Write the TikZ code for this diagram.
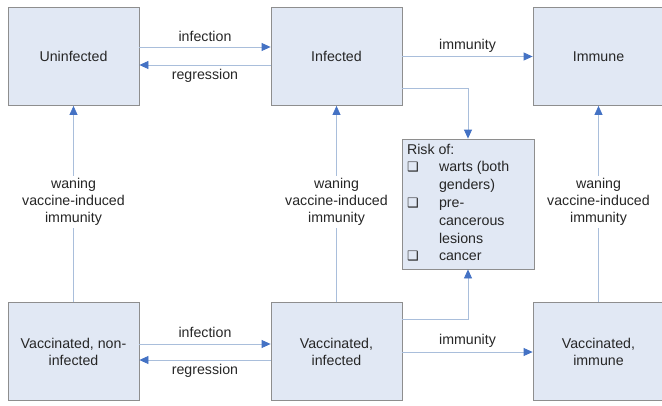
\documentclass[tikz,border=0pt]{standalone}
\usepackage{fontspec}
\setmainfont{Liberation Sans}
\newfontfamily\symfont{DejaVu Sans Bold}
\usetikzlibrary{arrows.meta}
\definecolor{boxfill}{HTML}{E1E8F4}
\definecolor{boxdraw}{HTML}{8E8E8E}
\definecolor{linec}{HTML}{A9BEDB}
\definecolor{tipc}{HTML}{4472C4}
\newcommand{\chkbox}{{\symfont\fontsize{13}{14}\selectfont ❑}}
\begin{document}
\begin{tikzpicture}[x=1pt,y=-1pt,
  font=\fontsize{14.2}{17}\selectfont,
  state/.style={draw=boxdraw, fill=boxfill, line width=0.8pt, minimum width=131pt, minimum height=98pt, align=center, inner sep=0pt, text=black!85},
  conn/.style={draw=linec, line width=0.8pt, -{Triangle[length=9pt,width=8pt,color=tipc]}},
  lbl/.style={font=\fontsize{14.2}{17}\selectfont, text=black!85, inner sep=1pt},
  wlbl/.style={lbl, fill=white, align=center, inner sep=2pt}]
\useasboundingbox (0,0) rectangle (662,405);
\node[state] (un) at (73.5,56.5) {Uninfected};
\node[state] (inf) at (336.5,56.5) {Infected};
\node[state] (imm) at (598.5,56.5) {Immune};
\node[state] (vni) at (73.5,351.5) {Vaccinated, non-\\infected};
\node[state] (vinf) at (336.5,351.5) {Vaccinated,\\infected};
\node[state] (vimm) at (598.5,351.5) {Vaccinated,\\immune};
\node[draw=boxdraw, fill=boxfill, line width=0.8pt, minimum width=132pt, minimum height=130pt, inner sep=0pt, text=black!85] (risk) at (468,204) {%
  \fontsize{14.2}{17.8}\selectfont
  \begin{tabular}{@{}p{32pt}@{}p{90pt}@{}}
  \multicolumn{2}{@{}l@{}}{Risk of:}\\
  \chkbox & warts (both\\
          & genders)\\
  \chkbox & pre-\\
          & cancerous\\
          & lesions\\
  \chkbox & cancer
  \end{tabular}};
% top row
\draw[conn] ([yshift=9.5pt]un.east) -- node[lbl, yshift=11pt] (l1) {infection} ([yshift=9.5pt]inf.west);
\draw[conn] ([yshift=-8.5pt]inf.west) -- node[lbl, yshift=-10.5pt] (l2) {regression} ([yshift=-8.5pt]un.east);
\draw[conn] (inf.east) -- node[lbl, yshift=11pt] (l3) {immunity} (imm.west);
\draw[conn] ([yshift=-31.5pt]inf.east) -| (risk.north);
% bottom row
\draw[conn] ([yshift=7.5pt]vni.east) -- node[lbl, yshift=11.5pt] (l4) {infection} ([yshift=7.5pt]vinf.west);
\draw[conn] ([yshift=-8.5pt]vinf.west) -- node[lbl, yshift=-11pt] (l5) {regression} ([yshift=-8.5pt]vni.east);
\draw[conn] ([yshift=-0.5pt]vinf.east) -- node[lbl, yshift=11pt] (l6) {immunity} ([yshift=-0.5pt]vimm.west);
\draw[conn] ([yshift=32.5pt]vinf.east) -| (risk.south);
% vertical
\draw[conn] (vni.north) -- node[wlbl, pos=0.51] (w1) {waning\\vaccine-induced\\immunity} (un.south);
\draw[conn] (vinf.north) -- node[wlbl, pos=0.51] (w2) {waning\\vaccine-induced\\immunity} (inf.south);
\draw[conn] (vimm.north) -- node[wlbl, pos=0.51] (w3) {waning\\vaccine-induced\\immunity} (imm.south);
\end{tikzpicture}
\end{document}
